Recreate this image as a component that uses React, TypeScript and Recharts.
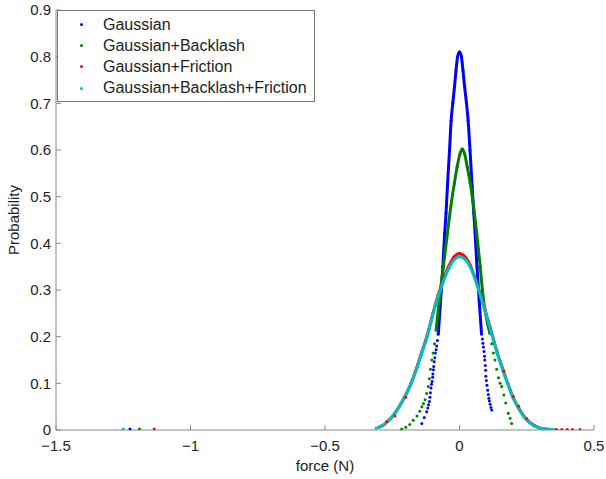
import { ScatterChart, Scatter, XAxis, YAxis, Legend } from 'recharts'

const FONT = '"Liberation Sans", Arial, sans-serif'

const X_TICKS = [-1.5, -1, -0.5, 0, 0.5]
const Y_TICKS = [0, 0.1, 0.2, 0.3, 0.4, 0.5, 0.6, 0.7, 0.8, 0.9]

const SERIES_NAMES = ['Gaussian', 'Gaussian+Backlash', 'Gaussian+Friction', 'Gaussian+Backlash+Friction']
const SERIES_COLORS = ['#0000ff', '#008000', '#ff0000', '#00bfbf']

// [force, probability] — dense part of each cloud (looks like a solid curve)
const gaussianCurve = [
  [-0.079, 0.205], [-0.07, 0.279], [-0.062, 0.35], [-0.055, 0.422], [-0.05, 0.465], [-0.045, 0.521],
  [-0.037, 0.6], [-0.031, 0.664], [-0.025, 0.7], [-0.0185, 0.736], [-0.013, 0.77], [-0.007, 0.8],
  [0, 0.81], [0.007, 0.8], [0.013, 0.77], [0.019, 0.736], [0.026, 0.7], [0.032, 0.664],
  [0.039, 0.6], [0.047, 0.521], [0.053, 0.465], [0.058, 0.422], [0.065, 0.35], [0.073, 0.279], [0.082, 0.205],
]
const gaussianDots = [
  [-0.082, 0.192], [-0.085, 0.18], [-0.087, 0.172], [-0.09, 0.165], [-0.092, 0.155], [-0.094, 0.146],
  [-0.096, 0.136], [-0.097, 0.129], [-0.099, 0.12], [-0.1, 0.113], [-0.102, 0.104], [-0.104, 0.098],
  [-0.106, 0.09], [-0.108, 0.08], [-0.11, 0.07], [-0.112, 0.061], [-0.115, 0.054], [-0.118, 0.047],
  [-0.122, 0.039], [-0.131, 0.027], [-0.14, 0.014], [-1.225, 0.002],
  [0.085, 0.195], [0.087, 0.186], [0.089, 0.178], [0.091, 0.168], [0.093, 0.158], [0.094, 0.15],
  [0.096, 0.138], [0.097, 0.128], [0.098, 0.115], [0.1, 0.106], [0.102, 0.096], [0.105, 0.085],
  [0.107, 0.076], [0.109, 0.068], [0.111, 0.062], [0.114, 0.055], [0.117, 0.048], [0.12, 0.043],
]

const backlashCurve = [
  [-0.087, 0.214], [-0.075, 0.279], [-0.06, 0.35], [-0.045, 0.421], [-0.032, 0.48], [-0.019, 0.529],
  [-0.009, 0.563], [0.001, 0.59], [0.01, 0.602], [0.019, 0.592], [0.029, 0.563], [0.04, 0.529],
  [0.052, 0.48], [0.064, 0.421], [0.077, 0.35], [0.089, 0.279], [0.1, 0.24], [0.113, 0.207],
]
const backlashDots = [
  [-0.093, 0.185], [-0.098, 0.165], [-0.103, 0.15], [-0.108, 0.13], [-0.112, 0.11], [-0.116, 0.093],
  [-0.122, 0.078], [-0.128, 0.065], [-0.134, 0.057], [-0.14, 0.05], [-0.148, 0.04], [-0.158, 0.03],
  [-0.172, 0.021], [-0.185, 0.012], [-0.2, 0.006], [-0.215, 0.002], [-1.19, 0.002],
  [0.12, 0.185], [0.126, 0.165], [0.132, 0.15], [0.138, 0.13], [0.145, 0.112], [0.151, 0.1],
  [0.157, 0.093], [0.165, 0.075], [0.172, 0.058], [0.181, 0.036], [0.188, 0.025], [0.194, 0.014],
]

const frictionCurve = [
  [-0.3, 0.006], [-0.28, 0.012], [-0.26, 0.022], [-0.24, 0.036], [-0.22, 0.054], [-0.2, 0.075],
  [-0.18, 0.1], [-0.16, 0.132], [-0.14, 0.167], [-0.12, 0.203], [-0.1, 0.247], [-0.08, 0.288],
  [-0.06, 0.322], [-0.04, 0.351], [-0.02, 0.371], [0, 0.378], [0.02, 0.371], [0.04, 0.353],
  [0.06, 0.322], [0.08, 0.286], [0.1, 0.247], [0.12, 0.207], [0.14, 0.167], [0.16, 0.132],
  [0.18, 0.099], [0.2, 0.069], [0.22, 0.047], [0.24, 0.029], [0.26, 0.017], [0.28, 0.009],
  [0.3, 0.004], [0.32, 0.002], [0.34, 0.001],
]
const frictionDots = [
  [-0.27, 0.018], [-0.24, 0.03], [-0.2, 0.07], [0.165, 0.126], [0.2, 0.072], [0.22, 0.051],
  [0.25, 0.024], [0.36, 0.001], [0.38, 0.001], [0.4, 0.001], [0.42, 0.001], [0.448, 0.001], [-1.135, 0.002],
]

const bothCurve = [
  [-0.3, 0.006], [-0.28, 0.012], [-0.26, 0.022], [-0.24, 0.036], [-0.22, 0.054], [-0.2, 0.075],
  [-0.18, 0.1], [-0.16, 0.13], [-0.14, 0.165], [-0.12, 0.2], [-0.1, 0.245], [-0.08, 0.285],
  [-0.06, 0.318], [-0.04, 0.346], [-0.02, 0.365], [0, 0.371], [0.02, 0.366], [0.04, 0.349],
  [0.06, 0.32], [0.08, 0.284], [0.1, 0.245], [0.12, 0.205], [0.14, 0.165], [0.16, 0.13],
  [0.18, 0.098], [0.2, 0.068], [0.22, 0.046], [0.24, 0.028], [0.26, 0.016], [0.28, 0.008],
  [0.3, 0.004], [0.32, 0.002], [0.34, 0.001], [0.36, 0],
]
const bothDots = [[-1.25, 0.002], [-0.31, 0.004]]

const toPts = (arr: number[][]) => arr.map(([f, p]) => ({ f, p }))

const curves = [gaussianCurve, backlashCurve, frictionCurve, bothCurve]
const clouds = [gaussianDots, backlashDots, frictionDots, bothDots]

const fmt = (v: number) => (v < 0 ? '\u2212' + String(-v) : String(v))

const dot = (color: string) => (props: any) =>
  <circle cx={props.cx} cy={props.cy} r={1.5} fill={color} />

const renderLegend = () => (
  <div
    style={{
      width: 256,
      height: 87,
      paddingTop: 3,
      border: '1px solid #777',
      background: '#fff',
      fontFamily: FONT,
      fontSize: 16,
      color: '#222',
      boxSizing: 'content-box',
    }}
  >
    {SERIES_NAMES.map((name, i) => (
      <div key={name} style={{ display: 'flex', alignItems: 'center', height: 21.2 }}>
        <span
          style={{
            display: 'inline-block',
            width: 3,
            height: 3,
            borderRadius: '50%',
            background: SERIES_COLORS[i],
            marginLeft: 22,
            marginRight: 20,
          }}
        />
        <span>{name}</span>
      </div>
    ))}
  </div>
)

export default function App() {
  const tickStyle = { fontSize: 15, fill: '#222', fontFamily: FONT }
  return (
    <div style={{ position: 'absolute', left: 0, top: 0, background: '#fff' }}>
      <ScatterChart width={606} height={479} margin={{ top: 10, right: 12, bottom: 0, left: 0 }}>
        <XAxis
          type="number"
          dataKey="f"
          domain={[-1.5, 0.5]}
          ticks={X_TICKS}
          allowDataOverflow
          height={49}
          tickSize={-5}
          tickMargin={15}
          tickFormatter={fmt}
          tick={tickStyle}
          stroke="#888"
          label={{ value: 'force (N)', position: 'insideBottom', offset: 8, style: { fontSize: 15, fill: '#222', fontFamily: FONT } }}
        />
        <XAxis
          xAxisId="top"
          orientation="top"
          type="number"
          domain={[-1.5, 0.5]}
          ticks={X_TICKS}
          allowDataOverflow
          height={0}
          tickSize={-5}
          tick={false}
          stroke="#888"
        />
        <YAxis
          type="number"
          dataKey="p"
          domain={[0, 0.9]}
          ticks={Y_TICKS}
          allowDataOverflow
          width={56}
          tickSize={-5}
          tickMargin={10}
          tickFormatter={fmt}
          tick={tickStyle}
          stroke="#888"
          label={{ value: 'Probability', angle: -90, position: 'insideLeft', offset: 14, style: { textAnchor: 'middle', fontSize: 15, fill: '#222', fontFamily: FONT } }}
        />
        <YAxis
          yAxisId="right"
          orientation="right"
          type="number"
          domain={[0, 0.9]}
          ticks={Y_TICKS}
          allowDataOverflow
          width={0}
          tickSize={-5}
          tick={false}
          stroke="#888"
        />
        {curves.map((c, i) => (
          <Scatter
            key={'c' + i}
            name={SERIES_NAMES[i]}
            data={toPts(c)}
            fill={SERIES_COLORS[i]}
            shape={dot(SERIES_COLORS[i])}
            line={{ stroke: SERIES_COLORS[i], strokeWidth: 3 }}
            lineType="joint"
            lineJointType="monotoneX"
            isAnimationActive={false}
          />
        ))}
        {clouds.map((c, i) => (
          <Scatter
            key={'d' + i}
            data={toPts(c)}
            fill={SERIES_COLORS[i]}
            shape={dot(SERIES_COLORS[i])}
            isAnimationActive={false}
          />
        ))}
        <Legend
          content={renderLegend}
          layout="vertical"
          align="center"
          verticalAlign="middle"
          wrapperStyle={{ left: 57, top: 10, width: 'auto' }}
        />
      </ScatterChart>
    </div>
  )
}
